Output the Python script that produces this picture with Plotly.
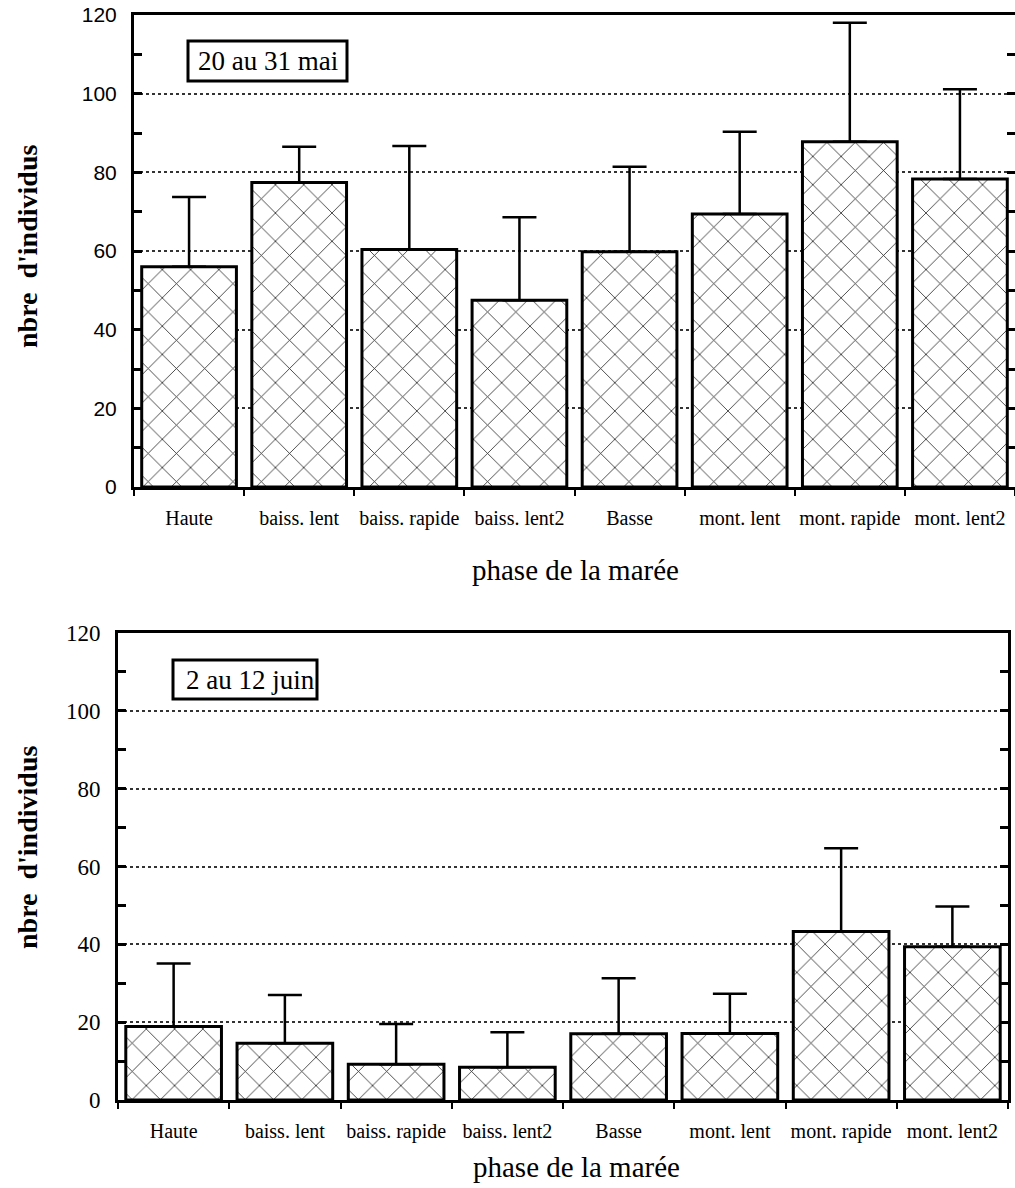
import plotly.graph_objects as go

# ---------------- data ----------------
phases = ["Haute", "baiss. lent", "baiss. rapide", "baiss. lent2",
          "Basse", "mont. lent", "mont. rapide", "mont. lent2"]

# 20 au 31 mai : moyennes et écarts (barre d'erreur vers le haut)
mai_moyenne = [56.0, 77.4, 60.4, 47.5, 59.8, 69.4, 87.8, 78.3]
mai_ecart = [17.7, 9.1, 26.3, 21.1, 21.6, 20.9, 30.2, 22.8]

# 2 au 12 juin
juin_moyenne = [18.9, 14.6, 9.2, 8.4, 17.0, 17.1, 43.3, 39.4]
juin_ecart = [16.2, 12.4, 10.3, 9.0, 14.3, 10.2, 21.4, 10.3]

y_ticks = [0, 20, 40, 60, 80, 100, 120]
y_range = [0, 120]

periode_labels = ["20 au 31 mai", "2 au 12 juin"]
x_title = "phase de la marée"
y_title = "nbre  d'individus"

# ---------------- layout helpers ----------------
W, H = 1015, 1188


def px(x):
    return x / W


def py(y):
    return 1 - y / H


SERIF = "Liberation Serif"
SANS = "Liberation Sans"

fig = go.Figure()

panels = [
    (mai_moyenne, mai_ecart, "x", "y"),
    (juin_moyenne, juin_ecart, "x2", "y2"),
]

for moy, ec, xa, ya in panels:
    fig.add_trace(go.Bar(
        x=phases, y=moy, xaxis=xa, yaxis=ya,
        width=0.86,
        marker=dict(
            color="white",
            line=dict(color="black", width=3),
            pattern=dict(shape="x", fgcolor="black", bgcolor="white",
                         fgopacity=0.85, size=20, solidity=0.08),
        ),
        error_y=dict(type="data", symmetric=False, array=ec,
                     arrayminus=[0] * len(ec), color="black",
                     thickness=2.5, width=17),
        showlegend=False,
        hoverinfo="x+y",
    ))


def xaxis_cfg(domain, anchor, fontsize):
    return dict(
        domain=domain, anchor=anchor, type="category", automargin=False,
        ticks="outside", tickson="boundaries", ticklen=6, tickwidth=2,
        tickcolor="black", showline=True, linewidth=3, linecolor="black",
        mirror=True, showgrid=False, tickangle=0,
        tickfont=dict(family=SERIF, size=fontsize, color="black"),
        ticklabelstandoff=11,
    )


def yaxis_cfg(domain, anchor, font):
    return dict(
        domain=domain, anchor=anchor, range=y_range, tickvals=y_ticks,
        automargin=False,
        ticks="inside", ticklen=8, tickwidth=3, tickcolor="black",
        showline=True, linewidth=3, linecolor="black", mirror="ticks",
        showgrid=True, gridcolor="#333333", griddash="dot", gridwidth=2,
        zeroline=False,
        minor=dict(dtick=10, ticks="inside", ticklen=8, tickwidth=3,
                   tickcolor="black", showgrid=False),
        tickfont=font, ticklabelstandoff=10,
    )


fig.update_layout(
    width=W, height=H,
    margin=dict(l=0, r=0, t=0, b=0, pad=0, autoexpand=False),
    paper_bgcolor="white", plot_bgcolor="white",
    xaxis=xaxis_cfg([px(134), 1.0], "y", 20),
    yaxis=yaxis_cfg([py(487), py(15)], "x",
                    dict(family=SANS, size=21, color="black")),
    xaxis2=xaxis_cfg([px(118), px(1008)], "y2", 20),
    yaxis2=yaxis_cfg([py(1100), py(633)], "x2",
                     dict(family=SERIF, size=23, color="black")),
)

# period boxes
boxes = [
    (periode_labels[0], 188, 41, 347, 81, 268, 61),
    (periode_labels[1], 173, 660, 317, 699, 250, 680),
]
for txt, x0, y0, x1, y1, cx, cy in boxes:
    fig.add_shape(type="rect", xref="paper", yref="paper",
                  x0=px(x0), x1=px(x1), y0=py(y1), y1=py(y0),
                  line=dict(color="black", width=3), fillcolor="white",
                  layer="above")
    fig.add_annotation(text=txt, xref="paper", yref="paper",
                       x=px(cx), y=py(cy), showarrow=False,
                       xanchor="center", yanchor="middle",
                       font=dict(family=SERIF, size=27, color="black"))

# axis titles
for cx, cy in [(575, 570), (576, 1167)]:
    fig.add_annotation(text=x_title, xref="paper", yref="paper",
                       x=px(cx), y=py(cy), showarrow=False,
                       xanchor="center", yanchor="middle",
                       font=dict(family=SERIF, size=29, color="black"))
for cx, cy in [(27, 247), (27, 848)]:
    fig.add_annotation(text="<b>" + y_title + "</b>", xref="paper",
                       yref="paper", x=px(cx), y=py(cy), showarrow=False,
                       textangle=-90, xanchor="center", yanchor="middle",
                       font=dict(family=SERIF, size=28, color="black"))

fig.write_html(
    "out.html",
    config={"displayModeBar": False},
    post_script="document.body.style.margin='0px';"
                "document.body.style.overflow='hidden';",
)
